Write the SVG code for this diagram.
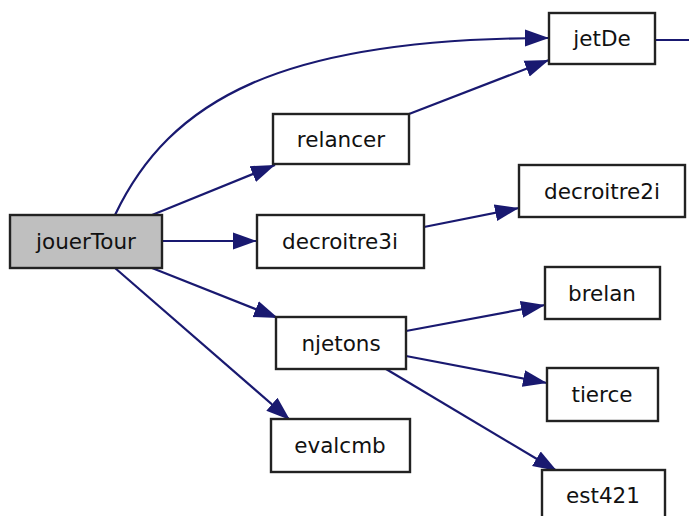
<svg xmlns="http://www.w3.org/2000/svg" width="689" height="516" viewBox="0 0 689 516">
<style>
.n rect{fill:#fff;stroke:#222;stroke-width:2.4}
.n text{font-family:"DejaVu Sans","Liberation Sans",sans-serif;font-size:21.5px;fill:#111;text-anchor:middle;dominant-baseline:central}
.e path{fill:none;stroke:#191970;stroke-width:2.2}
</style>
<defs>
<marker id="a" markerUnits="userSpaceOnUse" markerWidth="26" markerHeight="20" refX="24" refY="10" orient="auto">
<path d="M0,1.5 L24,10 L0,18.5 Z" fill="#191970"/>
</marker>
</defs>
<rect width="689" height="516" fill="#fff"/>
<g class="e">
<path d="M115,215 C170,100 280,38 549,38" marker-end="url(#a)"/>
<path d="M152,215 L275,165" marker-end="url(#a)"/>
<path d="M409,114 L549,60" marker-end="url(#a)"/>
<path d="M162,241 L257,241" marker-end="url(#a)"/>
<path d="M424,227 L519,208" marker-end="url(#a)"/>
<path d="M152,268 L278,318" marker-end="url(#a)"/>
<path d="M115,268 L290,420" marker-end="url(#a)"/>
<path d="M406,331 L545,305" marker-end="url(#a)"/>
<path d="M406,356 L547,383" marker-end="url(#a)"/>
<path d="M386,369 L557,471" marker-end="url(#a)"/>
<path d="M655,40 L689,40"/>
</g>
<g id="jouerTour" class="n"><rect x="10" y="215" width="152" height="53" style="fill:#bfbfbf"/><text x="86" y="241">jouerTour</text></g>
<g id="jetDe" class="n"><rect x="549" y="13" width="106" height="51"/><text x="602" y="38">jetDe</text></g>
<g id="relancer" class="n"><rect x="273" y="114" width="136" height="50"/><text x="341" y="139">relancer</text></g>
<g id="decroitre3i" class="n"><rect x="257" y="215" width="167" height="53"/><text x="340" y="241">decroitre3i</text></g>
<g id="decroitre2i" class="n"><rect x="519" y="165" width="166" height="52"/><text x="602" y="191">decroitre2i</text></g>
<g id="njetons" class="n"><rect x="276" y="317" width="130" height="52"/><text x="341" y="343">njetons</text></g>
<g id="evalcmb" class="n"><rect x="271" y="419" width="139" height="53"/><text x="340" y="445">evalcmb</text></g>
<g id="brelan" class="n"><rect x="545" y="267" width="115" height="52"/><text x="602" y="293">brelan</text></g>
<g id="tierce" class="n"><rect x="547" y="368" width="111" height="53"/><text x="602" y="394">tierce</text></g>
<g id="est421" class="n"><rect x="542" y="470" width="123" height="52"/><text x="603" y="495">est421</text></g>
</svg>
